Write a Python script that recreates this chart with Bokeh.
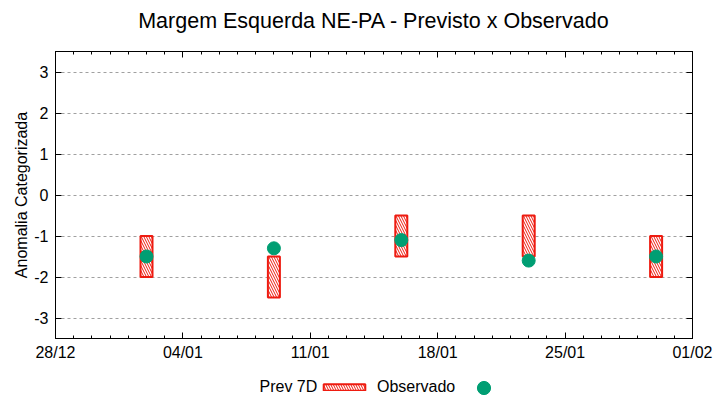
import datetime as dt
from bokeh.plotting import figure
from bokeh.layouts import column
from bokeh.models import (LinearAxis, DatetimeAxis, FixedTicker, Range1d, Legend,
                          LegendItem, ColumnDataSource, Label)
from bokeh.embed import file_html
from bokeh.resources import INLINE

# ---- data ----
dates = ["2024-01-02", "2024-01-09", "2024-01-16", "2024-01-23", "2024-01-30"]
prev_top = [-1.0, -1.5, -0.5, -0.5, -1.0]
prev_bottom = [-2.0, -2.5, -1.5, -1.5, -2.0]
observado = [-1.5, -1.3, -1.1, -1.6, -1.5]
x_tick_dates = ["2023-12-28", "2024-01-04", "2024-01-11", "2024-01-18", "2024-01-25", "2024-02-01"]
x_tick_labels = ["28/12", "04/01", "11/01", "18/01", "25/01", "01/02"]
y_ticks = [-3, -2, -1, 0, 1, 2, 3]
y_tick_labels = ["-3", "-2", "-1", "0", "1", "2", "3"]
series_names = ["Prev 7D", "Observado"]
title_text = "Margem Esquerda NE-PA - Previsto x Observado"

DAY = 86400000.0
EPOCH = dt.datetime(1970, 1, 1)


def ms(s):
    return (dt.datetime.strptime(s, "%Y-%m-%d") - EPOCH).total_seconds() * 1000.0


xs = [ms(d) for d in dates]
half = 0.33 * DAY
src = ColumnDataSource(dict(
    x=xs,
    left=[x - half for x in xs],
    right=[x + half for x in xs],
    top=prev_top,
    bottom=prev_bottom,
    obs=observado,
))

xt = [ms(d) for d in x_tick_dates]
minor = [xt[0] + i * DAY for i in range(int((xt[-1] - xt[0]) / DAY) + 1)]
xticker = FixedTicker(ticks=xt, minor_ticks=minor)
yticker = FixedTicker(ticks=y_ticks, minor_ticks=[])

FONT = "Liberation Sans"
RED = "#ee1b10"
GREEN = "#009e73"
BAR_STYLE = dict(fill_color="white", line_color=RED, line_width=2,
                 hatch_pattern="left_diagonal_line", hatch_color=RED,
                 hatch_scale=5, hatch_weight=1)
DOT_STYLE = dict(marker="circle", fill_color=GREEN, line_color=GREEN)

W = 720
TITLE_H = 38
KEY_H = 35
MAIN_H = 400 - TITLE_H - KEY_H
FRAME_W = W - 55 - 28


def strip(h):
    f = figure(width=W, height=h, output_backend="svg", toolbar_location=None,
               x_range=Range1d(0, 1), y_range=Range1d(0, 1), min_border=0)
    f.axis.visible = False
    f.grid.visible = False
    f.outline_line_color = None
    f.background_fill_color = "white"
    f.border_fill_color = "white"
    return f


# ---------------- title strip ----------------
t = strip(TITLE_H)
t.add_layout(Label(x=FRAME_W / 2.0, y=TITLE_H - 20, x_units="screen", y_units="screen",
                   text=title_text, text_font=FONT, text_font_size="21.5px",
                   text_color="#000000", text_align="center", text_baseline="middle"))

# ---------------- main plot ----------------
p = figure(width=W, height=MAIN_H, output_backend="svg", toolbar_location=None,
           x_axis_type="datetime",
           x_range=Range1d(xt[0], xt[-1]), y_range=Range1d(-3.5, 3.5),
           min_border_left=55, min_border_right=28, min_border_top=51 - TITLE_H,
           min_border_bottom=27)

p.outline_line_color = "black"
p.outline_line_width = 1
p.background_fill_color = "white"
p.border_fill_color = "white"


def style_axis(ax, ticker, labels=True):
    ax.ticker = ticker
    ax.axis_line_color = "black"
    ax.major_tick_in = 6
    ax.major_tick_out = 0
    ax.minor_tick_in = 3
    ax.minor_tick_out = 0
    ax.major_tick_line_color = "black"
    ax.minor_tick_line_color = "black"
    ax.major_label_text_font = FONT
    ax.major_label_text_font_size = "16px" if labels else "1px"
    ax.major_label_text_color = "#000000"
    ax.major_label_standoff = 6 if labels else 0


xa = p.xaxis[0]
style_axis(xa, xticker)
xa.major_label_standoff = 5
xa.major_label_overrides = {x: lab for x, lab in zip(xt, x_tick_labels)}

ya = p.yaxis[0]
style_axis(ya, yticker)
ya.major_label_standoff = 7
ya.major_label_overrides = {v: lab for v, lab in zip(y_ticks, y_tick_labels)}
ya.axis_label = "Anomalia Categorizada"
ya.axis_label_text_font = FONT
ya.axis_label_text_font_size = "16px"
ya.axis_label_text_font_style = "normal"
ya.axis_label_text_color = "#000000"
ya.axis_label_standoff = 1

ra = LinearAxis()
style_axis(ra, yticker, labels=False)
ra.major_label_overrides = {v: "" for v in y_ticks}
p.add_layout(ra, "right")
ta = DatetimeAxis()
style_axis(ta, xticker, labels=False)
ta.major_label_overrides = {x: "" for x in xt}
p.add_layout(ta, "above")

p.xgrid.visible = False
p.ygrid.ticker = yticker
p.ygrid.grid_line_color = "#a0a0a0"
p.ygrid.grid_line_dash = "3 3"
p.ygrid.grid_line_width = 1

p.quad(left="left", right="right", top="top", bottom="bottom", source=src, **BAR_STYLE)
p.scatter(x="x", y="obs", source=src, size=13, **DOT_STYLE)

# ---------------- key strip below (gnuplot-style: label then sample) ----------------
k = strip(KEY_H)
# key renderers share the data but sit outside the strip's visible ranges
k_bar = k.quad(left="left", right="right", top="top", bottom="bottom", source=src, **BAR_STYLE)
k_dot = k.scatter(x="x", y="obs", source=src, size=13, **DOT_STYLE)

k.add_layout(Label(x=204, y=14, x_units="screen", y_units="screen", text=series_names[0],
                   text_font=FONT, text_font_size="16px", text_color="#000000",
                   text_baseline="middle"))

legA = Legend(items=[LegendItem(label=series_names[1], renderers=[k_bar])],
              orientation="horizontal", location=(263, 4),
              glyph_width=52, glyph_height=8, label_standoff=7, spacing=0,
              label_width=0, padding=0, margin=0,
              label_text_font=FONT, label_text_font_size="16px",
              label_text_color="#000000",
              background_fill_alpha=0, border_line_alpha=0)
legB = Legend(items=[LegendItem(label=" ", renderers=[k_dot])],
              orientation="horizontal", location=(411.5, -3.5),
              glyph_width=33, glyph_height=33, label_standoff=0, label_width=0,
              spacing=0, padding=0, margin=0,
              label_text_font=FONT, label_text_font_size="16px",
              background_fill_alpha=0, border_line_alpha=0)
k.add_layout(legA)
k.add_layout(legB)

layout = column(t, p, k, spacing=0)
open("out.html", "w").write(file_html(layout, INLINE))
